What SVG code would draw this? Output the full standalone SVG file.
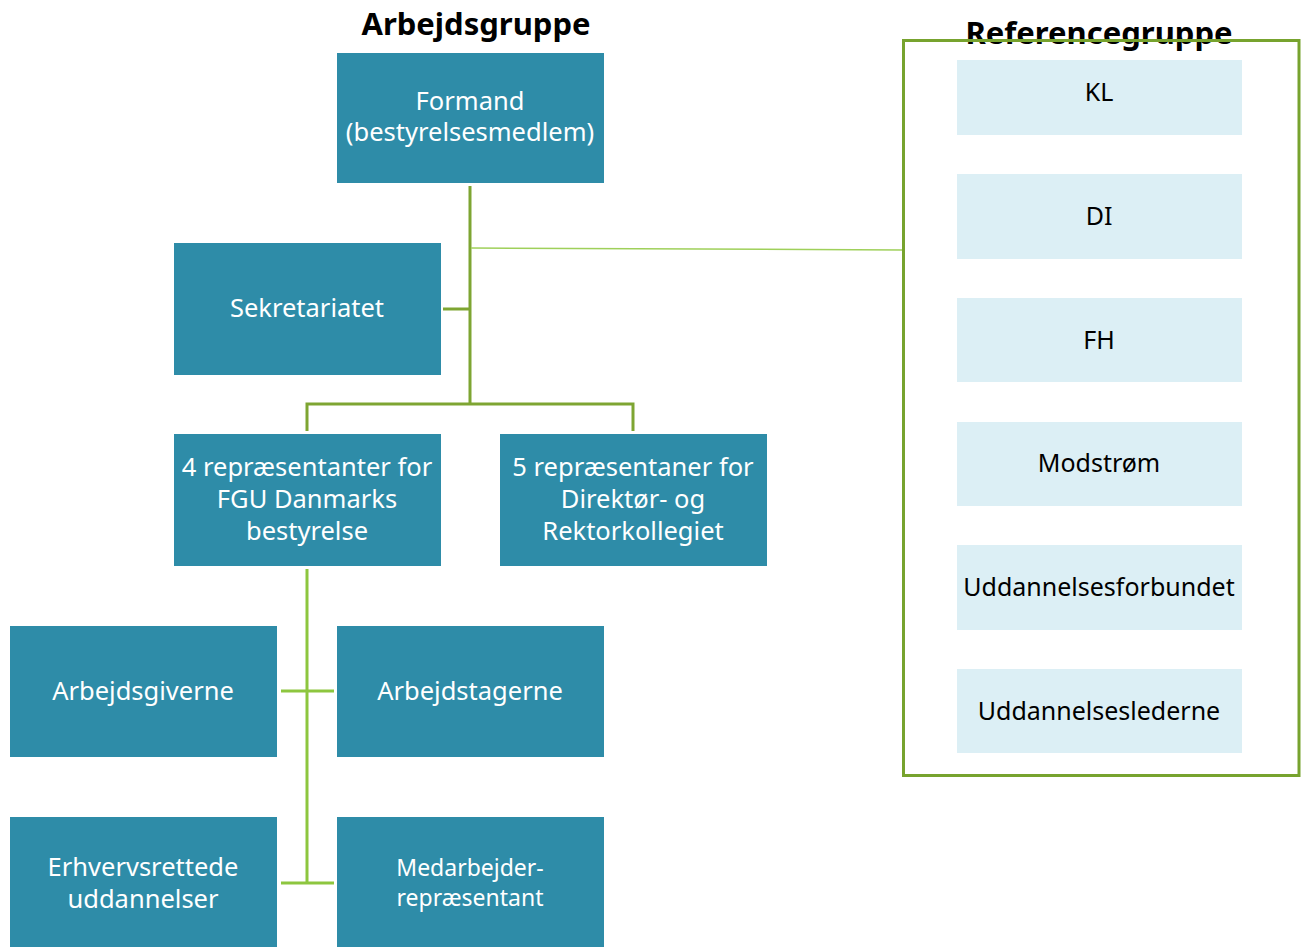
<svg xmlns="http://www.w3.org/2000/svg" width="1301" height="947" viewBox="0 0 1301 947">
<style>
.n{fill:#2e8ca8}
.r{fill:#dceff5}
.t{font-family:"Noto Sans","Open Sans",sans-serif;font-size:25.5px;fill:#ffffff;text-anchor:middle}
.k{font-family:"Noto Sans","Open Sans",sans-serif;font-size:25px;fill:#000000;text-anchor:middle}
.h{font-family:"Noto Sans","Open Sans",sans-serif;font-size:31px;font-weight:bold;fill:#000000;text-anchor:middle}
.c{fill:none;stroke:#7ea532;stroke-width:3}
.c2{fill:none;stroke:#8dc63f;stroke-width:3}
.c3{fill:none;stroke:#9fd05a;stroke-width:1.5}
</style>
<rect width="1301" height="947" fill="#ffffff"/>
<g id="connectors">
<path class="c" d="M470 186V404M443 309H470M307 431V404H633V431"/>
<path class="c3" d="M471 248L903 250"/>
<path class="c2" d="M307 569V883M281 691H334M281 883H334"/>
</g>
<g id="referencegruppe">
<text class="h" x="1099" y="44">Referencegruppe</text>
<rect x="903.5" y="40.5" width="395.5" height="735" fill="none" stroke="#77a32e" stroke-width="3"/>
</g>
<text class="h" x="476" y="35">Arbejdsgruppe</text>
<g id="formand"><rect class="n" x="337" y="53" width="267" height="130"/><text class="t" x="470" y="110">Formand</text><text class="t" x="470" y="141">(bestyrelsesmedlem)</text></g>
<g id="sekretariatet"><rect class="n" x="174" y="243" width="267" height="132"/><text class="t" x="307" y="317">Sekretariatet</text></g>
<g id="fgu"><rect class="n" x="174" y="434" width="267" height="132"/><text class="t" x="307" y="476">4 repræsentanter for</text><text class="t" x="307" y="508">FGU Danmarks</text><text class="t" x="307" y="540">bestyrelse</text></g>
<g id="direktor"><rect class="n" x="500" y="434" width="267" height="132"/><text class="t" x="633" y="476">5 repræsentaner for</text><text class="t" x="633" y="508">Direktør- og</text><text class="t" x="633" y="540">Rektorkollegiet</text></g>
<g id="arbejdsgiverne"><rect class="n" x="10" y="626" width="267" height="131"/><text class="t" x="143" y="700">Arbejdsgiverne</text></g>
<g id="arbejdstagerne"><rect class="n" x="337" y="626" width="267" height="131"/><text class="t" x="470" y="700">Arbejdstagerne</text></g>
<g id="erhverv"><rect class="n" x="10" y="817" width="267" height="131"/><text class="t" x="143" y="876">Erhvervsrettede</text><text class="t" x="143" y="908">uddannelser</text></g>
<g id="medarbejder"><rect class="n" x="337" y="817" width="267" height="131"/><text class="t" x="470" y="876" style="font-size:23px">Medarbejder-</text><text class="t" x="470" y="906" style="font-size:23px">repræsentant</text></g>
<g id="kl"><rect class="r" x="957" y="60" width="285" height="75"/><text class="k" x="1099" y="101">KL</text></g>
<g id="di"><rect class="r" x="957" y="174" width="285" height="85"/><text class="k" x="1099" y="225">DI</text></g>
<g id="fh"><rect class="r" x="957" y="298" width="285" height="84"/><text class="k" x="1099" y="349">FH</text></g>
<g id="modstrom"><rect class="r" x="957" y="422" width="285" height="84"/><text class="k" x="1099" y="472">Modstrøm</text></g>
<g id="uf"><rect class="r" x="957" y="545" width="285" height="85"/><text class="k" x="1099" y="596">Uddannelsesforbundet</text></g>
<g id="ul"><rect class="r" x="957" y="669" width="285" height="84"/><text class="k" x="1099" y="720">Uddannelseslederne</text></g>
</svg>
